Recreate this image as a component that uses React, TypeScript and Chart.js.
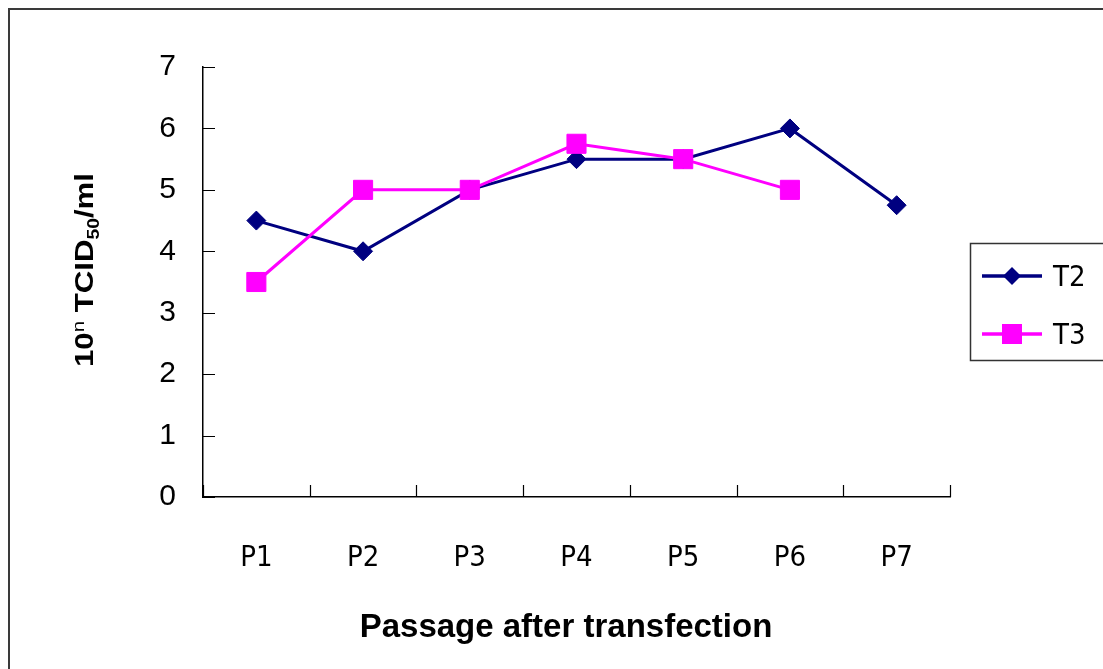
import React, { useEffect, useRef } from "react";
import { Chart, registerables } from "chart.js";

Chart.register(...registerables);

const categories = ["P1", "P2", "P3", "P4", "P5", "P6", "P7"];
const t2Values: (number | null)[] = [4.5, 4.0, 5.0, 5.5, 5.5, 6.0, 4.75];
const t3Values: (number | null)[] = [3.5, 5.0, 5.0, 5.75, 5.5, 5.0, null];
const seriesNames = ["T2", "T3"];
const yMin = 0;
const yMax = 7;
const xTitle = "Passage after transfection";

const NAVY = "#000080";
const MAGENTA = "#FF00FF";
const NARROW = "'Liberation Sans Narrow', 'DejaVu Sans Condensed', 'Liberation Sans', Arial, sans-serif";
const ARIAL = "'Liberation Sans', Arial, sans-serif";

const decorPlugin = {
  id: "decor",
  afterDraw(chart: any) {
    const ctx = chart.ctx as CanvasRenderingContext2D;
    const area = chart.chartArea;
    const xs = chart.scales.x;
    const ys = chart.scales.y;
    ctx.save();

    // outer frame (top and left visible)
    ctx.strokeStyle = "#3a3a3a";
    ctx.lineWidth = 2;
    ctx.beginPath();
    ctx.moveTo(9, 669);
    ctx.lineTo(9, 9);
    ctx.lineTo(1103, 9);
    ctx.stroke();

    // inner ticks
    ctx.strokeStyle = "#000";
    ctx.lineWidth = 1.2;
    ctx.beginPath();
    ys.ticks.forEach((t: any) => {
      const y = Math.round(ys.getPixelForValue(t.value)) + 0.5;
      ctx.moveTo(area.left, y);
      ctx.lineTo(area.left + 12, y);
    });
    const half = (xs.getPixelForValue(1) - xs.getPixelForValue(0)) / 2;
    for (let i = 0; i <= categories.length; i++) {
      const x = Math.round(xs.getPixelForValue(i) - half) + 0.5;
      ctx.moveTo(x, area.bottom);
      ctx.lineTo(x, area.bottom - 12);
    }
    ctx.stroke();

    // x title
    ctx.fillStyle = "#000";
    ctx.font = `bold 33px ${ARIAL}`;
    ctx.textAlign = "center";
    ctx.textBaseline = "alphabetic";
    ctx.fillText(xTitle, 566, 637);

    // y title with super/subscript
    ctx.save();
    ctx.translate(93, 270);
    ctx.rotate(-Math.PI / 2);
    const parts = [
      { t: "10", f: `bold 26px ${ARIAL}`, dy: 0 },
      { t: "n", f: `17px ${ARIAL}`, dy: -9 },
      { t: " TCID", f: `bold 26px ${ARIAL}`, dy: 0 },
      { t: "50", f: `bold 16px ${ARIAL}`, dy: 6 },
      { t: "/ml", f: `bold 26px ${ARIAL}`, dy: 0 },
    ];
    let total = 0;
    parts.forEach((p) => {
      ctx.font = p.f;
      total += ctx.measureText(p.t).width;
    });
    const sx = 194 / total;
    ctx.scale(sx, 1);
    let cx = -total / 2;
    ctx.textAlign = "left";
    ctx.textBaseline = "alphabetic";
    parts.forEach((p) => {
      ctx.font = p.f;
      ctx.fillText(p.t, cx, p.dy);
      cx += ctx.measureText(p.t).width;
    });
    ctx.restore();

    // legend
    ctx.strokeStyle = "#333";
    ctx.lineWidth = 1.5;
    ctx.strokeRect(970.5, 243.5, 160, 117);
    const rows = [276, 334];
    chart.data.datasets.forEach((ds: any, i: number) => {
      const y = rows[i];
      ctx.strokeStyle = ds.borderColor;
      ctx.lineWidth = 3.5;
      ctx.beginPath();
      ctx.moveTo(982, y);
      ctx.lineTo(1042, y);
      ctx.stroke();
      ctx.fillStyle = ds.pointBackgroundColor;
      ctx.beginPath();
      if (ds.pointStyle === "rectRot") {
        ctx.moveTo(1012, y - 9);
        ctx.lineTo(1021, y);
        ctx.lineTo(1012, y + 9);
        ctx.lineTo(1003, y);
        ctx.closePath();
      } else {
        ctx.rect(1002, y - 10, 20, 20);
      }
      ctx.fill();
      ctx.fillStyle = "#000";
      ctx.font = `29px ${NARROW}`;
      ctx.textAlign = "left";
      ctx.textBaseline = "alphabetic";
      ctx.fillText(ds.label, 1053, y + 10);
    });

    ctx.restore();
  },
};

export default function App() {
  const ref = useRef<HTMLCanvasElement | null>(null);

  useEffect(() => {
    document.body.style.margin = "0";
    document.body.style.overflow = "hidden";
    const canvas = ref.current;
    if (!canvas) return;
    const chart = new Chart(canvas, {
      type: "line",
      data: {
        labels: categories,
        datasets: [
          {
            label: seriesNames[0],
            data: t2Values,
            borderColor: NAVY,
            backgroundColor: NAVY,
            pointBackgroundColor: NAVY,
            pointBorderColor: NAVY,
            pointStyle: "rectRot",
            pointRadius: 9.5,
            pointBorderWidth: 1,
            borderWidth: 3,
            tension: 0,
            order: 1,
          },
          {
            label: seriesNames[1],
            data: t3Values,
            borderColor: MAGENTA,
            backgroundColor: MAGENTA,
            pointBackgroundColor: MAGENTA,
            pointBorderColor: MAGENTA,
            pointStyle: "rect",
            pointRadius: 13.5,
            pointBorderWidth: 1,
            borderWidth: 3,
            tension: 0,
            order: 0,
          },
        ] as any,
      },
      options: {
        animation: false,
        responsive: false,
        maintainAspectRatio: false,
        devicePixelRatio: 1,
        layout: { padding: { left: 0, top: 67, right: 153, bottom: 0 } },
        plugins: {
          legend: { display: false },
          tooltip: { enabled: false },
          title: { display: false },
        },
        scales: {
          x: {
            type: "category",
            offset: true,
            grid: { display: false, drawTicks: false, offset: true },
            border: { display: true, color: "#000", width: 1.5 },
            ticks: {
              padding: 44,
              color: "#000",
              font: { family: NARROW, size: 29 },
              maxRotation: 0,
            },
            afterFit: (s: any) => {
              s.height = 172;
            },
          },
          y: {
            min: yMin,
            max: yMax,
            grid: { display: false, drawTicks: false },
            border: { display: true, color: "#000", width: 1.5 },
            ticks: {
              stepSize: 1,
              padding: 27,
              color: "#000",
              font: { family: ARIAL, size: 30 },
            },
            afterFit: (s: any) => {
              s.width = 203;
            },
          },
        },
      } as any,
      plugins: [decorPlugin],
    });
    return () => chart.destroy();
  }, []);

  return (
    <div style={{ width: 1103, height: 669, overflow: "hidden", background: "#fff" }}>
      <canvas ref={ref} width={1103} height={669} style={{ display: "block" }} />
    </div>
  );
}
